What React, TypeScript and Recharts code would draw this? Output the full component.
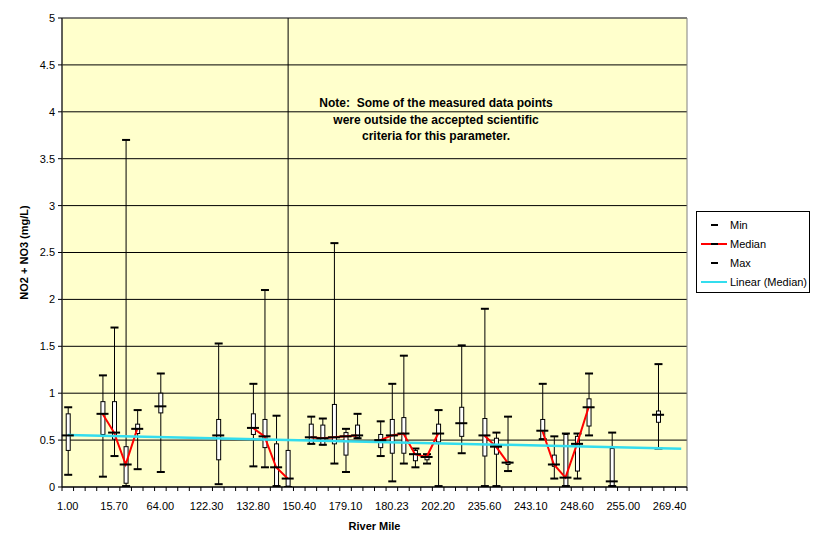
import React from 'react'
import { ComposedChart, Bar, Line, XAxis, YAxis, CartesianGrid, ReferenceArea } from 'recharts'

// river mile labels shown on the axis (every 4th category of 54)
const tickLabels = ['1.00', '15.70', '64.00', '122.30', '132.80', '150.40', '179.10', '180.23', '202.20', '235.60', '243.10', '248.60', '255.00', '269.40']
const categoryCount = 54

// per-category values, null = no sample at that station
const minVals = [0.13, null, null, 0.11, 0.33, 0.01, 0.19, null, 0.16, null, null, null, null, 0.03, null, null, 0.22, 0.21, 0.01, 0.0, null, 0.46, 0.45, 0.25, 0.16, 0.52, null, 0.33, 0.06, 0.25, 0.21, 0.25, 0.01, null, 0.36, null, 0.01, 0.01, 0.17, null, null, 0.51, 0.09, 0.01, 0.09, 0.55, null, 0.01, null, null, null, 0.41, null, null]
const q1Vals = [0.39, null, null, 0.56, 0.51, 0.04, 0.57, null, 0.79, null, null, null, null, 0.29, null, null, 0.56, 0.42, 0.01, 0.01, null, 0.46, 0.45, 0.46, 0.34, 0.53, null, 0.42, 0.36, 0.36, 0.28, 0.29, 0.48, null, 0.54, null, 0.33, 0.35, 0.24, null, null, 0.51, 0.22, 0.01, 0.17, 0.65, null, 0.01, null, null, null, 0.69, null, null]
const medVals = [0.55, null, null, 0.78, 0.58, 0.24, 0.62, null, 0.86, null, null, null, null, 0.55, null, null, 0.63, 0.54, 0.21, 0.09, null, 0.53, 0.52, 0.53, 0.54, 0.55, null, 0.5, 0.55, 0.57, 0.35, 0.32, 0.57, null, 0.68, null, 0.55, 0.43, 0.26, null, null, 0.6, 0.24, 0.1, 0.46, 0.85, null, 0.06, null, null, null, 0.77, null, null]
const q3Vals = [0.78, null, null, 0.91, 0.91, 0.43, 0.67, null, 1.0, null, null, null, null, 0.72, null, null, 0.78, 0.72, 0.46, 0.39, null, 0.67, 0.66, 0.88, 0.58, 0.66, null, 0.56, 0.72, 0.74, 0.39, 0.34, 0.67, null, 0.85, null, 0.73, 0.52, 0.27, null, null, 0.72, 0.34, 0.56, 0.54, 0.94, null, 0.41, null, null, null, 0.81, null, null]
const maxVals = [0.85, null, null, 1.19, 1.7, 3.7, 0.82, null, 1.21, null, null, null, null, 1.53, null, null, 1.1, 2.1, 0.76, 5.08, null, 0.75, 0.73, 2.6, 0.62, 0.78, null, 0.7, 1.1, 1.4, 0.41, 0.35, 0.82, null, 1.51, null, 1.9, 0.58, 0.75, null, null, 1.1, 0.54, 0.57, 0.57, 1.21, null, 0.58, null, null, null, 1.31, null, null]

// linear trend of the median, read at the first and last category
const trendStart = 0.555
const trendEnd = 0.408

const yTicks = [0, 0.5, 1, 1.5, 2, 2.5, 3, 3.5, 4, 4.5, 5]

const rows = minVals.map((v, i) => ({
  i,
  min: v,
  q1: q1Vals[i],
  med: medVals[i],
  q3: q3Vals[i],
  max: maxVals[i],
  trend: i === 0 ? trendStart : i === categoryCount - 1 ? trendEnd : null,
}))

const FONT = 'Arial, "Liberation Sans", sans-serif'
const boundaryTicks = Array.from({ length: categoryCount + 1 }, (_, k) => k - 0.5)
const labelTicks = tickLabels.map((_, k) => k * 4)

const BoxShape = (props: any) => {
  const { x, y, width, height, payload } = props
  if (payload == null || payload.max == null) return <g />
  const k = height / (payload.max - payload.min)
  const yOf = (v: number) => y + (payload.max - v) * k
  const cx = x + width / 2
  const top = yOf(payload.q3)
  const bot = yOf(payload.q1)
  return (
    <g>
      <line x1={cx} x2={cx} y1={y} y2={y + height} stroke="#000" strokeWidth={1} />
      <rect x={cx - 2} y={top} width={4} height={Math.max(bot - top, 1)} fill="#fff" stroke="#000" strokeWidth={1} />
      <rect x={cx - 4} y={y - 1} width={8} height={2} fill="#000" />
      <rect x={cx - 4} y={y + height - 1} width={8} height={2} fill="#000" />
    </g>
  )
}

const MedianDot = (props: any) => {
  const { cx, cy, payload, index } = props
  if (payload == null || payload.med == null || cy == null) return <g key={index} />
  return <rect key={index} x={cx - 6} y={cy - 1} width={12} height={2} fill="#000" />
}

const EmptyTick = () => <g />

const LegendBox = () => (
  <svg width={114} height={82} style={{ position: 'absolute', left: 696, top: 211 }}>
    <rect x={0.5} y={0.5} width={113} height={81} fill="#fff" stroke="#000" />
    <g fontFamily={FONT} fontSize={11} fill="#000">
      <rect x={15} y={13} width={7} height={2} fill="#000" />
      <text x={34} y={18}>Min</text>
      <line x1={5} x2={31} y1={33} y2={33} stroke="#ff0000" strokeWidth={2} />
      <rect x={15} y={32} width={7} height={2} fill="#000" />
      <text x={34} y={37}>Median</text>
      <rect x={15} y={51} width={7} height={2} fill="#000" />
      <text x={34} y={56}>Max</text>
      <line x1={5} x2={31} y1={71} y2={71} stroke="#33ddee" strokeWidth={2} />
      <text x={34} y={75}>Linear (Median)</text>
    </g>
  </svg>
)

const App: React.FC = () => {
  return (
    <div style={{ position: 'absolute', left: 0, top: 0, width: 816, height: 549, background: '#fff', fontFamily: FONT }}>
      <ComposedChart width={816} height={549} data={rows} margin={{ top: 18, right: 129, left: 0, bottom: 0 }}>
        <CartesianGrid xAxisId="b" vertical={false} stroke="#000" fill="#ffffcc" />
        <ReferenceArea xAxisId="b" y1={0} y2={5} fill="none" stroke="#808080" strokeWidth={1} ifOverflow="extendDomain" />
        <XAxis xAxisId="b" type="number" dataKey="i" domain={[-0.5, categoryCount - 0.5]} ticks={labelTicks} interval={0}
          tickFormatter={(v: number) => tickLabels[v / 4] ?? ''} tickLine={false} axisLine={false} tickSize={0} tickMargin={14}
          height={61} tick={{ fill: '#000', fontSize: 11, fontFamily: FONT }}
          label={{ content: (p: any) => {
            const vb = p.viewBox || {}
            return <text x={vb.x + vb.width / 2} y={530} textAnchor="middle" fontFamily={FONT} fontSize={11} fontWeight="bold" fill="#000">River Mile</text>
          } }} />
        <XAxis xAxisId="a" type="number" dataKey="i" domain={[-0.5, categoryCount - 0.5]} ticks={boundaryTicks} tick={EmptyTick}
          tickSize={4} height={1} axisLine={{ stroke: '#000' }} tickLine={{ stroke: '#000' }} interval={0} />
        <YAxis type="number" domain={[0, 5]} ticks={yTicks} allowDataOverflow width={62} interval={0}
          tickSize={4} tickMargin={3} axisLine={{ stroke: '#000' }} tickLine={{ stroke: '#000' }}
          tick={{ fill: '#000', fontSize: 11, fontFamily: FONT }}
          label={{ content: (p: any) => {
            const vb = p.viewBox || {}
            const cy = vb.y + vb.height / 2
            return <text x={28} y={cy} transform={`rotate(-90, 28, ${cy})`} textAnchor="middle" fontFamily={FONT} fontSize={11} fontWeight="bold" fill="#000">NO2 + NO3 (mg/L)</text>
          } }} />
        <Bar xAxisId="b" dataKey={(d: any) => (d.max == null ? null : [d.min, d.max])} barSize={12} shape={BoxShape} isAnimationActive={false} />
        <Line xAxisId="b" type="linear" dataKey="med" stroke="#ff0000" strokeWidth={2} dot={MedianDot} activeDot={false} isAnimationActive={false} />
        <Line xAxisId="b" type="linear" dataKey="trend" stroke="#33ddee" strokeWidth={2.5} dot={false} activeDot={false} connectNulls isAnimationActive={false} />
      </ComposedChart>
      <div style={{ position: 'absolute', left: 286, top: 95, width: 300, textAlign: 'center', fontFamily: FONT, fontSize: 12, fontWeight: 'bold', lineHeight: '16.5px', color: '#000' }}>
        Note:&nbsp; Some of the measured data points<br />were outside the accepted scientific<br />criteria for this parameter.
      </div>
      <LegendBox />
    </div>
  )
}

export default App
